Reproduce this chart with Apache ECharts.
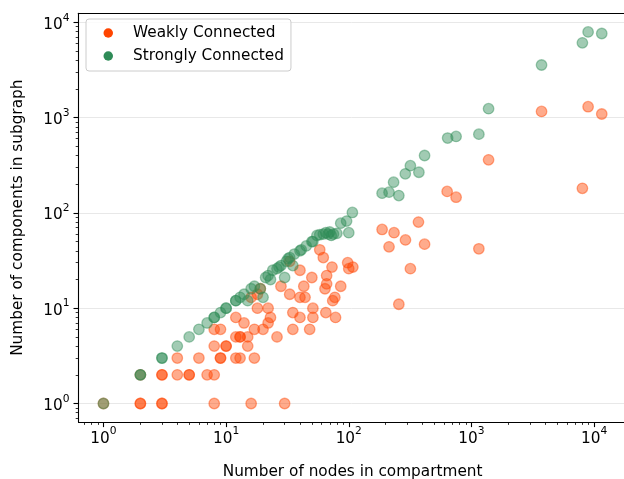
<!DOCTYPE html>
<html><head><meta charset="utf-8">
<script src="https://cdn.jsdelivr.net/npm/echarts@6/dist/echarts.min.js"></script>
<style>html,body{margin:0;padding:0;background:#fff}#c{width:624px;height:479px}</style>
</head><body><div id="c"></div>
<script>
const seriesNames = ['Weakly Connected', 'Strongly Connected'];
const xAxisTitle = 'Number of nodes in compartment';
const yAxisTitle = 'Number of components in subgraph';

const weakNodes = [1,2,2,3,3,8,16,30, 2,3,3,4,5,5,7,8, 4,6,9,9,12,13,17, 8,10,10,15, 12,13,13,15,26, 8,9,17,20,35,48, 14,22, 12,23,40,51,78, 35,65, 18,22,51, 74,77, 16,40,44, 18,33, 19,64, 28,43,86, 66, 50,66, 40,73, 33,98,100,108, 62,58, 187,234,370,290,213,415,1150,318,256, 634,750,1380,3730,8940,11550,8030];
const weakComps = [1,1,1,1,1,1,1,1, 2,2,2,2,2,2,2,2, 3,3,3,3,3,3,3, 4,4,4,4, 5,5,5,5,5, 6,6,6,6,6,6, 7,7, 8,8,8,8,8, 9,9, 10,10,10, 12,13, 13,13,13, 14,14, 16,16, 17,17,17, 18, 21,22, 25,27, 31,30,26,27, 34,41, 67,62,80,52,44,47,42,26,11, 168,146,360,1160,1300,1090,181];

const strongNodes = [1,2,2,3,3,4,5,6,7,8,8,9,10,10,12,12,13,14,15,16,17,19,20,21,22,23,24,26,27,28,30,31,32,33,35,36,40,41,45,50,51,55,58,62,65,68,70,72,75,80,86,96,100,107,187,213,232,256,289,318,373,415,640,750,1150,1380,3730,8030,8940,11550];
const strongComps = [1,2,2,3,3,4,5,6,7,8,8,9,10,10,12,12,13,14,12,16,17,16,13,21,22,20,25,26,27,28,21,31,33,34,28,37,40,41,45,50,50,58,59,60,62,60,63,58,60,61,78,82,62,101,161,165,210,152,257,313,267,400,610,634,670,1240,3560,6080,7920,7620];

const majorTicks = [1, 10, 100, 1000, 10000];
const minorTicks = [0.7,0.8,0.9, 2,3,4,5,6,7,8,9, 20,30,40,50,60,70,80,90, 200,300,400,500,600,700,800,900, 2000,3000,4000,5000,6000,7000,8000,9000];

const FONT = 'DejaVu Sans';
const FS = 15.3;
const X_MIN = 0.626, X_MAX = 18450, Y_MIN = 0.638, Y_MAX = 12420;

function pairs(xs, ys) { return xs.map((x, i) => [x, ys[i]]); }
function powLabel(v) { return '{b|10}{s|' + Math.round(Math.log10(v)) + '}'; }
const rich = {
  b: { fontFamily: FONT, fontSize: FS, color: '#000', padding: [5, 0, 0, 0] },
  s: { fontFamily: FONT, fontSize: 10.7, color: '#000', verticalAlign: 'top' }
};

function baseAxis(extra) {
  return Object.assign({ type: 'log', logBase: 10, splitLine: { show: false }, axisLabel: { show: false }, axisTick: { show: false }, axisLine: { show: false }, minorTick: { show: false } }, extra);
}

const chart = echarts.init(document.getElementById('c'), null, { renderer: 'canvas' });
chart.setOption({
  animation: false,
  backgroundColor: '#fff',
  grid: { left: 78.5, right: -2.7, top: 13.3, bottom: 56.9, containLabel: false, outerBoundsMode: 'none' },
  legend: {
    orient: 'vertical', left: 86, top: 19,
    padding: [5.5, 7, 6.5, 17.5], itemWidth: 39.5, itemHeight: 9.5, itemGap: 6,
    icon: 'circle',
    borderColor: '#cccccc', borderWidth: 1, borderRadius: 3, backgroundColor: 'rgba(255,255,255,0.8)',
    textStyle: { fontFamily: FONT, fontSize: FS, color: '#000', lineHeight: 17 },
    itemStyle: { opacity: 1, borderWidth: 0 },
    data: seriesNames
  },
  xAxis: [
    baseAxis({ min: X_MIN, max: X_MAX, position: 'bottom',
      name: xAxisTitle, nameLocation: 'middle', nameGap: 42,
      nameTextStyle: { fontFamily: FONT, fontSize: FS, color: '#000' },
      axisLine: { show: true, lineStyle: { color: '#000', width: 1.1 } },
      axisTick: { show: true, customValues: majorTicks, length: 5, lineStyle: { color: '#000', width: 1.1 } },
      axisLabel: { show: true, customValues: majorTicks, margin: 4, formatter: powLabel, rich: rich } }),
    baseAxis({ min: X_MIN, max: X_MAX, position: 'bottom',
      axisTick: { show: true, customValues: minorTicks, length: 2.8, lineStyle: { color: '#000', width: 0.8 } } }),
    baseAxis({ min: X_MIN, max: X_MAX, position: 'top',
      axisLine: { show: true, lineStyle: { color: '#000', width: 1.1 } } })
  ],
  yAxis: [
    baseAxis({ min: Y_MIN, max: Y_MAX, position: 'left',
      name: yAxisTitle, nameLocation: 'middle', nameGap: 53,
      nameTextStyle: { fontFamily: FONT, fontSize: FS, color: '#000' },
      axisLine: { show: true, lineStyle: { color: '#000', width: 1.1 } },
      axisTick: { show: true, customValues: majorTicks, length: 5, lineStyle: { color: '#000', width: 1.1 } },
      axisLabel: { show: true, customValues: majorTicks, margin: 9, formatter: powLabel, rich: rich } ,
      splitLine: { show: true, lineStyle: { color: '#e8e8e8', width: 1 } } }),
    baseAxis({ min: Y_MIN, max: Y_MAX, position: 'left',
      axisTick: { show: true, customValues: minorTicks, length: 2.8, lineStyle: { color: '#000', width: 0.8 } } })
  ],
  series: [
    { name: seriesNames[0], type: 'scatter', xAxisIndex: 0, yAxisIndex: 0, symbolSize: 10.5,
      itemStyle: { color: '#ff4500', borderColor: '#ff4500', borderWidth: 1.3, opacity: 0.45 },
      data: pairs(weakNodes, weakComps) },
    { name: seriesNames[1], type: 'scatter', xAxisIndex: 0, yAxisIndex: 0, symbolSize: 10.5,
      itemStyle: { color: '#2e8b57', borderColor: '#2e8b57', borderWidth: 1.3, opacity: 0.45 },
      data: pairs(strongNodes, strongComps) }
  ]
});
</script></body></html>
